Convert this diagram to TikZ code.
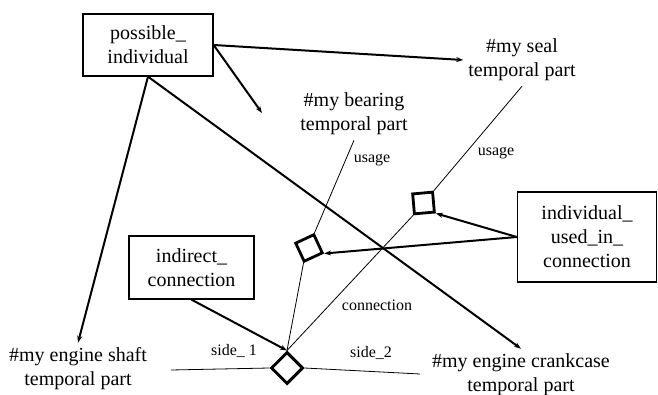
\documentclass[tikz,border=0pt]{standalone}
\usepackage{fontspec}
\setmainfont{Liberation Serif}
\usetikzlibrary{shapes.geometric,arrows.meta}

\begin{document}
\begin{tikzpicture}[x=1pt, y=-1pt,
    box/.style={rectangle, draw, line width=1.3pt, align=center, inner sep=0pt, font=\fontsize{20}{24}\selectfont},
    part/.style={align=center, inner sep=5pt, font=\fontsize{20}{24}\selectfont},
    role/.style={font=\fontsize{16}{18}\selectfont},
    link/.style={line width=2pt, -{Stealth[length=7pt,width=5pt]}},
    thin/.style={line width=0.8pt},
    relbox/.style={rectangle, draw, line width=2.8pt, minimum size=20pt, inner sep=0pt}
]
    \useasboundingbox (0,0) rectangle (658,395);

    \node[box, minimum width=130pt, minimum height=62pt] (pi) at (148,45) {possible\_\\individual};
    \node[box, minimum width=139pt, minimum height=90pt] (iuc) at (587,237) {individual\_\\used\_in\_\\connection};
    \node[box, minimum width=125pt, minimum height=63pt] (ic) at (191.5,267.5) {indirect\_\\connection};

    \node[part] (seal) at (522,60) {\#my seal\\temporal part};
    \node[part] (bearing) at (354,114) {\#my bearing\\temporal part};
    \node[part] (shaft) at (78,369) {\#my engine shaft\\temporal part};
    \node[part] (crank) at (521,375) {\#my engine crankcase\\temporal part};

    % relationship markers
    \node[diamond, draw, line width=3pt, minimum width=32pt, minimum height=32pt, inner sep=0pt] (conn) at (287,368) {};
    \node[relbox, rotate=25] (use1) at (309,248) {};
    \node[relbox, rotate=5] (use2) at (423.5,203) {};

    \coordinate (tip) at (262,113);
    \coordinate (end1) at (171,370);
    \coordinate (end2) at (420,374);

    \draw[link] (pi.east) -- (seal.west);
    \draw[link] (pi.east) -- (tip);
    \draw[link] (pi.south) -- (shaft.north);
    \draw[link] (pi.south) -- (crank.north);

    \draw[link] (iuc.west) -- (use2.south east);
    \draw[link] (iuc.west) -- (use1.south east);
    \draw[link] (ic.south) -- (conn.north);

    \draw[thin] (bearing.south) -- (use1.north east);
    \draw[thin] (seal.south) -- (use2.north east);
    \draw[thin] (use1.south west) -- (conn.north);
    \draw[thin] (use2.south west) -- (conn.north);
    \draw[thin] (conn.west) -- (end1);
    \draw[thin] (conn.east) -- (end2);

    \node[role] (l1) at (372,160) {usage};
    \node[role] (l2) at (496,153) {usage};
    \node[role] (l3) at (377,305) {connection};
    \node[role] (l4) at (234,351) {side\_ 1};
    \node[role] (l5) at (371,353) {side\_2};
\end{tikzpicture}
\end{document}
